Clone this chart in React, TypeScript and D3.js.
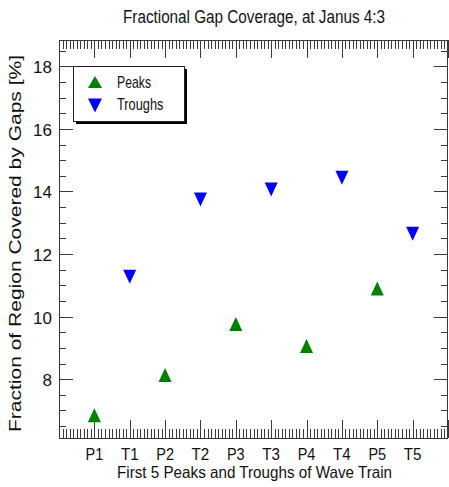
import React from "react";
import * as d3 from "d3";

// Wave train positions and measured gap coverage
const categories = ["P1", "T1", "P2", "T2", "P3", "T3", "P4", "T4", "P5", "T5"];
const peakIndex = [1, 3, 5, 7, 9];
const troughIndex = [2, 4, 6, 8, 10];
const peakValues = [6.85, 8.13, 9.76, 9.06, 10.9];
const troughValues = [11.27, 13.74, 14.06, 14.44, 12.65];
const yTickValues = [8, 10, 12, 14, 16, 18];
const legendLabels = ["Peaks", "Troughs"];

const W = 449;
const H = 487;
const left = 59;
const right = 448;
const top = 40;
const bottom = 438;

const FONT = "'Liberation Sans', Arial, Helvetica, sans-serif";
const GREEN = "#008000";
const BLUE = "#0000ff";
const AXIS = "#3a3a3a";

function triangle(cx: number, cy: number, up: boolean, w = 13, h = 14) {
  const hw = w / 2;
  const hh = h / 2;
  return up
    ? `M${cx},${cy - hh}L${cx + hw},${cy + hh}L${cx - hw},${cy + hh}Z`
    : `M${cx},${cy + hh}L${cx + hw},${cy - hh}L${cx - hw},${cy - hh}Z`;
}

export default function App() {
  const x = d3.scaleLinear().domain([0, 11]).range([left, right]);
  const y = d3.scaleLinear().domain([6.12, 18.84]).range([bottom, top]);

  const xMinor = d3.range(0, 111).map((i) => i / 10).filter((v) => Math.abs(v - Math.round(v)) > 1e-6);
  const xMajor = d3.range(0, 12);
  const yMinor = d3.range(13, 38).map((i) => i / 2).filter((v) => v % 2 !== 0);
  const yMajor = yTickValues;

  const px = (v: number) => Math.round(v) + 0.5;

  return (
    <svg width={W} height={H} style={{ position: "absolute", left: 0, top: 0, background: "#fff" }}>
      <rect x={0} y={0} width={W} height={H} fill="#fff" />
      {/* Title */}
      <text x={254} y={23} textAnchor="middle" fontFamily={FONT} fontSize={17.5}
        textLength={262} lengthAdjust="spacingAndGlyphs" fill="#111">
        Fractional Gap Coverage, at Janus 4:3
      </text>

      {/* axis ticks on all four sides */}
      <g stroke={AXIS} strokeWidth={1}>
        {xMinor.map((v, i) => (
          <g key={"xm" + i}>
            <line x1={px(x(v))} x2={px(x(v))} y1={bottom} y2={bottom - 9} />
            <line x1={px(x(v))} x2={px(x(v))} y1={top} y2={top + 9} />
          </g>
        ))}
        {xMajor.map((v, i) => (
          <g key={"xM" + i}>
            <line x1={px(x(v))} x2={px(x(v))} y1={bottom} y2={bottom - 18} />
            <line x1={px(x(v))} x2={px(x(v))} y1={top} y2={top + 18} />
          </g>
        ))}
        {yMinor.map((v, i) => (
          <g key={"ym" + i}>
            <line x1={left} x2={left + 7} y1={px(y(v))} y2={px(y(v))} />
            <line x1={right} x2={right - 7} y1={px(y(v))} y2={px(y(v))} />
          </g>
        ))}
        {yMajor.map((v, i) => (
          <g key={"yM" + i}>
            <line x1={left} x2={left + 14} y1={px(y(v))} y2={px(y(v))} />
            <line x1={right} x2={right - 14} y1={px(y(v))} y2={px(y(v))} />
          </g>
        ))}
        <rect x={left + 0.5} y={top + 0.5} width={right - left - 1} height={bottom - top} fill="none" />
      </g>

      {/* y tick labels */}
      {yMajor.map((v) => (
        <text key={"yl" + v} x={52} y={y(v) + 7} textAnchor="end" fontFamily={FONT} fontSize={17} fill="#111">
          {v}
        </text>
      ))}

      {/* category labels */}
      {categories.map((c, i) => (
        <text key={c} x={x(i + 1)} y={460} textAnchor="middle" fontFamily={FONT} fontSize={16.5}
          textLength={17.7} lengthAdjust="spacingAndGlyphs" fill="#111">
          {c}
        </text>
      ))}

      {/* axis titles */}
      <text x={254.5} y={478} textAnchor="middle" fontFamily={FONT} fontSize={16.5}
        textLength={275} lengthAdjust="spacingAndGlyphs" fill="#111">
        First 5 Peaks and Troughs of Wave Train
      </text>
      <text transform="translate(21,243.5) rotate(-90)" textAnchor="middle" fontFamily={FONT} fontSize={16}
        textLength={377} lengthAdjust="spacingAndGlyphs" fill="#111">
        Fraction of Region Covered by Gaps [%]
      </text>

      {/* data markers */}
      {peakValues.map((v, i) => (
        <path key={"p" + i} d={triangle(x(peakIndex[i]), y(v), true)} fill={GREEN} />
      ))}
      {troughValues.map((v, i) => (
        <path key={"t" + i} d={triangle(x(troughIndex[i]), y(v), false)} fill={BLUE} />
      ))}

      {/* legend */}
      <rect x={76} y={69} width={111} height={55} fill="#000" />
      <rect x={73.5} y={66.5} width={111} height={55} fill="#fff" stroke="#222" strokeWidth={1} />
      <path d={triangle(95, 82, true, 14, 12)} fill={GREEN} />
      <path d={triangle(95, 105.5, false, 14, 14)} fill={BLUE} />
      <text x={117} y={88} fontFamily={FONT} fontSize={17} textLength={34} lengthAdjust="spacingAndGlyphs" fill="#111">
        {legendLabels[0]}
      </text>
      <text x={117} y={110} fontFamily={FONT} fontSize={17} textLength={46.5} lengthAdjust="spacingAndGlyphs" fill="#111">
        {legendLabels[1]}
      </text>
    </svg>
  );
}
